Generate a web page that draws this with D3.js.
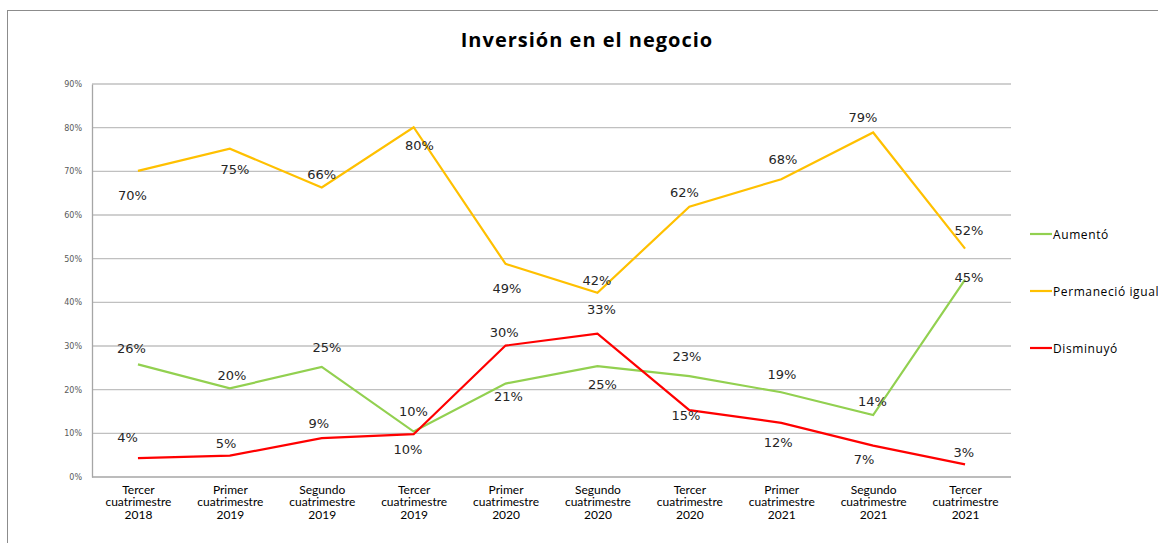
<!DOCTYPE html>
<html>
<head>
<meta charset="utf-8">
<script src="https://cdn.jsdelivr.net/npm/d3@7"></script>
<style>
  html, body { margin: 0; padding: 0; background: #fff; }
  svg { display: block; }
</style>
</head>
<body>
<svg id="chart" width="1158" height="543"></svg>
<script>
// ---- data ----
const title = "Inversión en el negocio";
const categories = [
  ["Tercer", "cuatrimestre", "2018"],
  ["Primer", "cuatrimestre", "2019"],
  ["Segundo", "cuatrimestre", "2019"],
  ["Tercer", "cuatrimestre", "2019"],
  ["Primer", "cuatrimestre", "2020"],
  ["Segundo", "cuatrimestre", "2020"],
  ["Tercer", "cuatrimestre", "2020"],
  ["Primer", "cuatrimestre", "2021"],
  ["Segundo", "cuatrimestre", "2021"],
  ["Tercer", "cuatrimestre", "2021"]
];
const seriesNames = ["Aumentó", "Permaneció igual", "Disminuyó"];
const aumento     = [25.8, 20.3, 25.2, 10.4, 21.4, 25.4, 23.1, 19.4, 14.2, 45.2];
const permanecio  = [70.1, 75.2, 66.3, 80.1, 48.8, 42.2, 61.9, 68.2, 78.9, 52.3];
const disminuyo   = [4.3, 4.9, 8.9, 9.8, 30.1, 32.8, 15.3, 12.4, 7.2, 2.9];
const yTicks = [0, 10, 20, 30, 40, 50, 60, 70, 80, 90];

// ---- layout (label offsets in px, relative to each point) ----
const labelOffsets = {
  "Aumentó": [[-6.6,-16],[2,-12.6],[5.2,-19],[-0.2,-20.4],[2.8,13.3],[5,18.7],[-2.5,-19.3],[0.6,-17.7],[-0.7,-13],[3.8,-2.3]],
  "Permaneció igual": [[-5.5,24.7],[5.1,21],[-0.1,-13.3],[5.7,18],[1.4,25],[-0.5,-12.7],[-5,-14.4],[1.6,-20],[-10.2,-15.4],[3.8,-18.3]],
  "Disminuyó": [[-10.5,-20.7],[-3.9,-12],[-2.9,-15],[-5.7,15.7],[-1.4,-13.4],[3.9,-24],[-3.5,5.3],[-3.1,20],[-9,14.3],[-1.2,-11.6]]
};
const colors = { "Aumentó": "#92D050", "Permaneció igual": "#FFC000", "Disminuyó": "#FF0000" };
const seriesData = { "Aumentó": aumento, "Permaneció igual": permanecio, "Disminuyó": disminuyo };

const svg = d3.select("#chart");
const plot = { left: 92, right: 1011, top: 84, bottom: 477 };

// outer frame
svg.append("rect")
  .attr("x", 7.5).attr("y", 10.5)
  .attr("width", 1200).attr("height", 600)
  .attr("fill", "none").attr("stroke", "#8c8c8c").attr("stroke-width", 1);

// title
svg.append("text")
  .attr("x", 587).attr("y", 47)
  .attr("text-anchor", "middle")
  .attr("font-family", "'Open Sans', Lato, sans-serif")
  .attr("font-weight", "bold")
  .attr("font-size", 20)
  .attr("letter-spacing", 1)
  .attr("fill", "#000")
  .text(title);

const x = d3.scalePoint()
  .domain(d3.range(categories.length))
  .range([plot.left, plot.right])
  .padding(0.5);

const y = d3.scaleLinear()
  .domain([0, 90])
  .range([plot.bottom, plot.top]);

// gridlines
svg.append("g")
  .selectAll("line")
  .data(yTicks.filter(d => d > 0))
  .join("line")
  .attr("x1", plot.left).attr("x2", plot.right)
  .attr("y1", d => y(d)).attr("y2", d => y(d))
  .attr("stroke", "#c0c0c0").attr("stroke-width", 1.3);

// y axis
const yAxis = svg.append("g")
  .attr("transform", `translate(${plot.left},0)`)
  .call(d3.axisLeft(y).tickValues(yTicks).tickSize(0).tickPadding(10).tickFormat(d => d + "%"));
yAxis.select(".domain").attr("stroke", "#a6a6a6").attr("stroke-width", 1.3);
yAxis.selectAll("text")
  .attr("font-family", "DejaVu Sans, sans-serif")
  .attr("font-size", 8)
  .attr("fill", "#595959");

// x axis
const xAxis = svg.append("g")
  .attr("transform", `translate(0,${plot.bottom})`)
  .call(d3.axisBottom(x).tickSize(0).tickFormat(""));
xAxis.select(".domain").attr("stroke", "#a6a6a6").attr("stroke-width", 1.3)
  .attr("d", `M${plot.left},0H${plot.right}`);
xAxis.selectAll(".tick").each(function(i) {
  const t = d3.select(this).append("text")
    .attr("text-anchor", "middle")
    .attr("font-family", "Lato, sans-serif")
    .attr("font-size", 12)
    .attr("fill", "#000");
  categories[i].forEach((line, k) => {
    t.append("tspan").attr("x", 0).attr("y", 16.5 + k * 12.8).text(line);
  });
});

// lines
const line = d3.line().x((d, i) => x(i)).y(d => y(d));
seriesNames.forEach(name => {
  svg.append("path")
    .datum(seriesData[name])
    .attr("fill", "none")
    .attr("stroke", colors[name])
    .attr("stroke-width", 2.2)
    .attr("stroke-linejoin", "miter")
    .attr("d", line);
});

// data labels
seriesNames.forEach(name => {
  svg.append("g")
    .selectAll("text")
    .data(seriesData[name])
    .join("text")
    .attr("x", (d, i) => x(i) + labelOffsets[name][i][0])
    .attr("y", (d, i) => y(d) + labelOffsets[name][i][1])
    .attr("text-anchor", "middle")
    .attr("dominant-baseline", "central")
    .attr("font-family", "DejaVu Sans, Verdana, sans-serif")
    .attr("font-size", 13)
    .attr("fill", "#262626")
    .text(d => Math.round(d) + "%");
});

// legend
const legend = svg.append("g");
const legendY = [234, 291, 348];
seriesNames.forEach((name, k) => {
  legend.append("line")
    .attr("x1", 1030).attr("x2", 1052)
    .attr("y1", legendY[k]).attr("y2", legendY[k])
    .attr("stroke", colors[name]).attr("stroke-width", 2.2);
  legend.append("text")
    .attr("x", 1053).attr("y", legendY[k])
    .attr("dominant-baseline", "central")
    .attr("font-family", "'Open Sans', sans-serif")
    .attr("font-size", 12)
    .attr("letter-spacing", 0.6)
    .attr("fill", "#000")
    .text(name);
});
</script>
</body>
</html>
